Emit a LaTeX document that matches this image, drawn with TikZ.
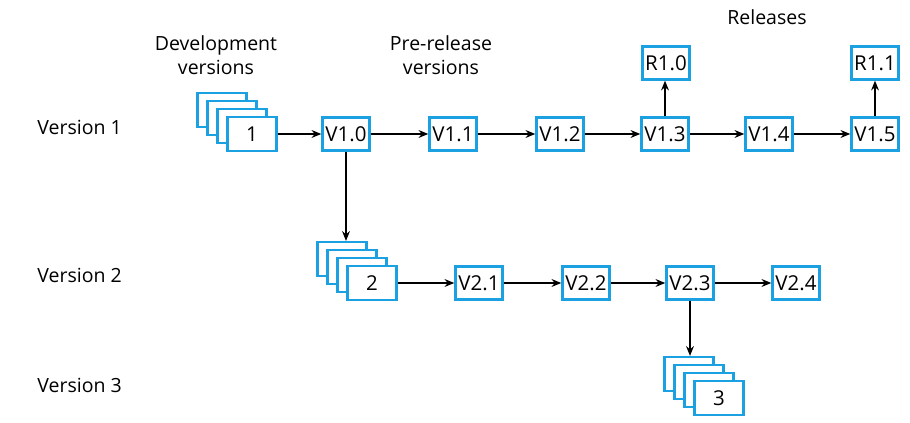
\documentclass[tikz,border=0pt]{standalone}
\usepackage{fontspec}
\setmainfont{Open Sans}
\usepackage{xcolor}
\usetikzlibrary{arrows.meta}
\definecolor{boxblue}{RGB}{27,161,226}

\begin{document}
\begin{tikzpicture}[
    x=0.018cm, y=-0.018cm,
    >={Stealth[length=5pt,width=4pt]},
    ver/.style={draw=boxblue, line width=1.2pt, fill=white, inner sep=0.5pt,
                minimum width=0.846cm, minimum height=0.594cm,
                font=\fontsize{10.5}{12}\selectfont},
    devbox/.style={ver, minimum width=0.88cm, minimum height=0.61cm},
    lbl/.style={align=center, font=\fontsize{10}{12}\selectfont},
    normal line/.style={->, line width=0.6pt}
    ]
\useasboundingbox (0,0) rectangle (910,423);

% headings
\node[lbl] (devlbl) at (216,55) {Development\\versions};
\node[lbl] (prelbl) at (441,55) {Pre-release\\versions};
\node[lbl] (rellbl) at (767,17) {Releases};
\node[lbl, anchor=west, inner sep=0pt] (row1) at (37,127) {Version 1};
\node[lbl, anchor=west, inner sep=0pt] (row2) at (37,275) {Version 2};
\node[lbl, anchor=west, inner sep=0pt] (row3) at (37,385) {Version 3};

% development stacks
\foreach \n/\x/\y in {1/252/134, 2/372/283, 3/719/398} {
    \foreach \k in {3,2,1}
        \node[devbox] (s\n-\k) at ({\x-10*\k},{\y-8*\k}) {};
    \node[devbox] (s\n) at (\x,\y) {\n};
}

% version 1 line
\node[ver] (v10) at (346,134) {V1.0};
\node[ver] (v11) at (453,134) {V1.1};
\node[ver] (v12) at (560,134) {V1.2};
\node[ver] (v13) at (665,134) {V1.3};
\node[ver] (v14) at (769,134) {V1.4};
\node[ver] (v15) at (875,134) {V1.5};
\node[ver] (r10) at (666,63) {R1.0};
\node[ver] (r11) at (875,63) {R1.1};

% version 2 line
\node[ver] (v21) at (479,283) {V2.1};
\node[ver] (v22) at (586,283) {V2.2};
\node[ver] (v23) at (690,283) {V2.3};
\node[ver] (v24) at (796,283) {V2.4};

\path[normal line] (s1) edge (v10);
\path[normal line] (v10) edge (v11);
\path[normal line] (v11) edge (v12);
\path[normal line] (v12) edge (v13);
\path[normal line] (v13) edge (v14);
\path[normal line] (v14) edge (v15);
\path[normal line] (v13) edge (v13 |- r10.south);
\path[normal line] (v15) edge (r11);
\path[normal line] (v10) edge (v10 |- s2-3.north);
\path[normal line] (s2) edge (v21);
\path[normal line] (v21) edge (v22);
\path[normal line] (v22) edge (v23);
\path[normal line] (v23) edge (v24);
\path[normal line] (v23) edge (v23 |- s3-3.north);
\end{tikzpicture}
\end{document}
